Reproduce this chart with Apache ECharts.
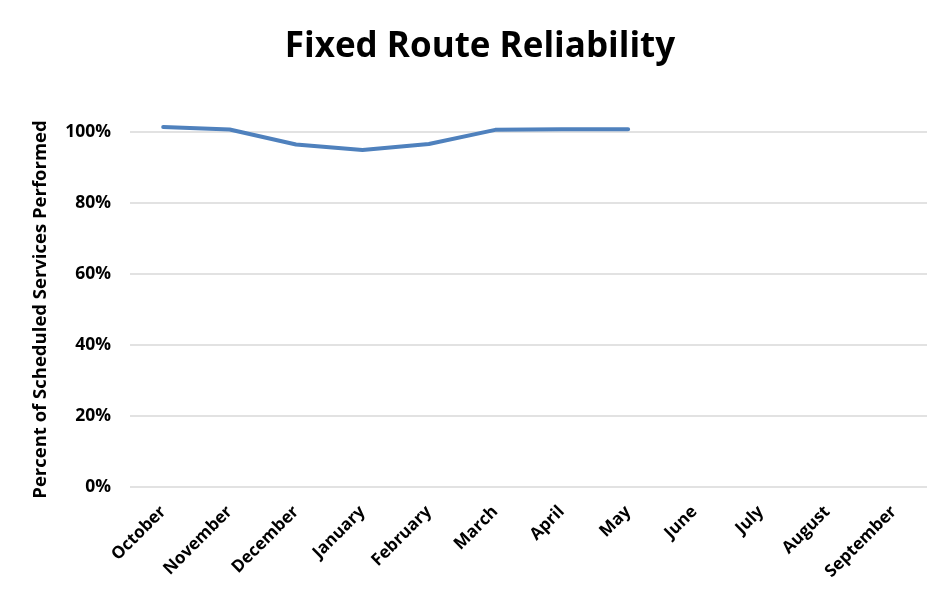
<!DOCTYPE html>
<html>
<head>
<meta charset="utf-8">
<script src="https://cdn.jsdelivr.net/npm/echarts@6/dist/echarts.min.js"></script>
<style>
	html, body { margin: 0; padding: 0; background: #fff; }
	#chart { width: 945px; height: 599px; }
</style>
</head>
<body>
<div id="chart"></div>
<script>
const months = ["October", "November", "December", "January", "February", "March", "April", "May", "June", "July", "August", "September"]
// percent of scheduled services performed, blank for months not reported yet
const reliability = [101.4, 100.7, 96.5, 94.9, 96.6, 100.6, 100.8, 100.8, null, null, null, null]
const yTicks = [0, 20, 40, 60, 80, 100]

const font = "'Open Sans', 'Liberation Sans', sans-serif"

const chart = echarts.init(document.getElementById("chart"))
chart.setOption({
	animation: false,
	title: {
		text: "Fixed Route Reliability",
		left: 475,
		top: 25,
		textAlign: "center",
		textStyle: { fontFamily: font, fontSize: 35, fontWeight: "bold", color: "#000" }
	},
	grid: { left: 130, right: 18, top: 132, bottom: 112 },
	xAxis: {
		type: "category",
		data: months,
		boundaryGap: true,
		axisLine: { show: false },
		axisTick: { show: false },
		axisLabel: {
			rotate: 45,
			interval: 0,
			margin: 22,
			fontFamily: font,
			fontSize: 17,
			fontWeight: "bold",
			color: "#000"
		}
	},
	yAxis: {
		type: "value",
		min: yTicks[0],
		max: yTicks[yTicks.length - 1],
		interval: 20,
		name: "Percent of Scheduled Services Performed",
		nameLocation: "middle",
		nameGap: 80,
		nameTextStyle: { fontFamily: font, fontSize: 18.5, fontWeight: "bold", color: "#000" },
		axisLine: { show: false },
		axisTick: { show: false },
		axisLabel: {
			formatter: "{value}%",
			margin: 19,
			fontFamily: font,
			fontSize: 17.5,
			fontWeight: "bold",
			color: "#000"
		},
		splitLine: { lineStyle: { color: "#d9d9d9", width: 1.5 } }
	},
	series: [
		{
			type: "line",
			data: reliability,
			clip: false,
			symbol: "none",
			connectNulls: false,
			lineStyle: { color: "#4f81bd", width: 4, cap: "round", join: "round" }
		}
	]
})
</script>
</body>
</html>
